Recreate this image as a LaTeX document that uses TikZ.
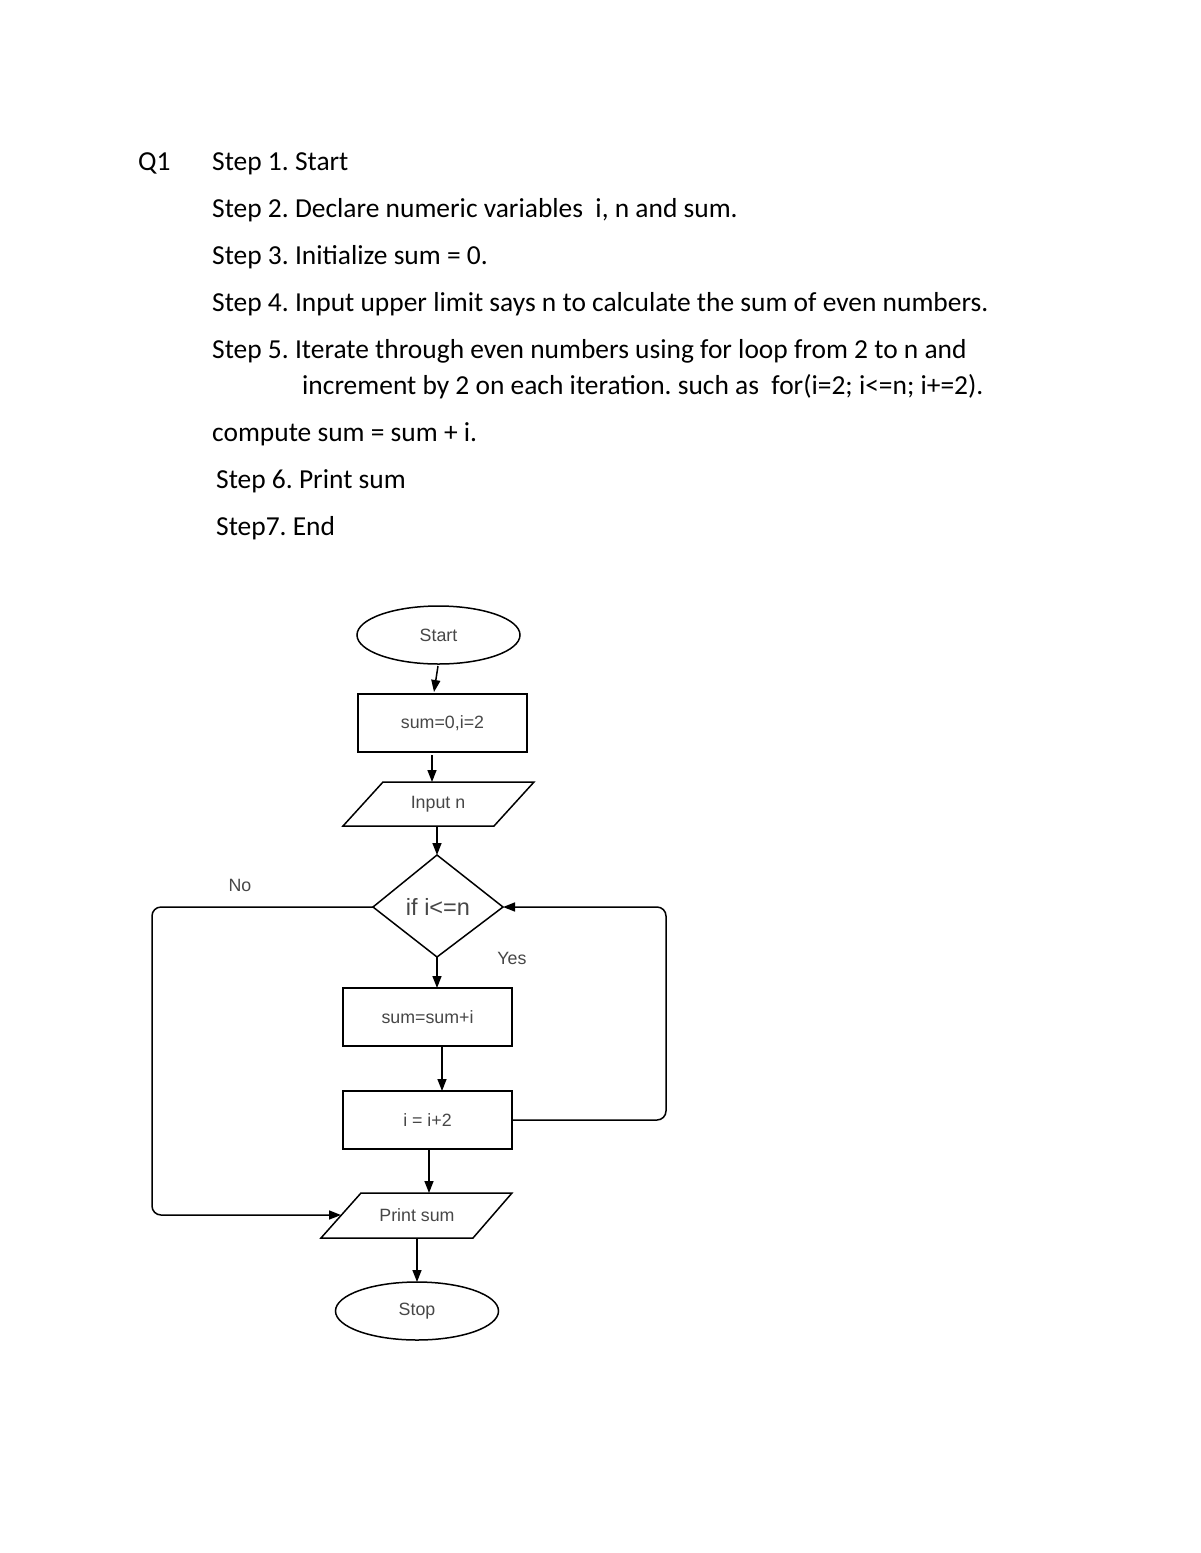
\documentclass[tikz,border=0pt]{standalone}
\usepackage{fontspec}
\setmainfont{Carlito}
\newfontfamily\flowfont{Liberation Sans}
\usetikzlibrary{arrows.meta,shapes.geometric}
\frenchspacing
\begin{document}
\begin{tikzpicture}[x=1pt,y=-1pt,
  txt/.style={anchor=base west, inner sep=0pt, font=\fontsize{27.45}{32}\selectfont},
  fl/.style={font=\flowfont\fontsize{17.8}{20}\selectfont, text=black!72},
  ln/.style={line width=1.5pt},
  arr/.style={ln,-{Triangle[length=12pt,width=9pt]}},
  boxst/.style={draw, ln, minimum width=169pt, minimum height=58pt, inner sep=0pt, fl},
  ellst/.style={draw, ln, ellipse, minimum width=163pt, minimum height=58pt, inner sep=0pt, fl}]
\path[use as bounding box, fill=white] (0,0) rectangle (1200,1553);

% algorithm text
\node[txt] (q1) at (138,170) {Q1};
\node[txt] (s1) at (212,170) {Step 1. Start};
\node[txt] (s2) at (212,217) {Step 2. Declare numeric variables\ \ i, n and sum.};
\node[txt] (s3) at (212,264) {Step 3. Initialize sum = 0.};
\node[txt] (s4) at (212,311) {Step 4. Input upper limit says n to calculate the sum of even numbers.};
\node[txt] (s5) at (212,358) {Step 5. Iterate through even numbers using for loop from 2 to n and};
\node[txt] (s5b) at (302,394) {increment by 2 on each iteration. such as\ \ for(i=2; i<=n; i+=2).};
\node[txt] (cmp) at (212,441) {compute sum = sum + i.};
\node[txt] (s6) at (216,488) {Step 6. Print sum};
\node[txt] (s7) at (216,535) {Step7. End};

% flowchart
\node[ellst] (start) at (438.5,635) {Start};
\node[boxst] (init) at (442.5,723) {sum=0,i=2};
\draw[ln] (383,782) -- (534,782) -- (494,826) -- (343,826) -- cycle;
\node[fl] (input) at (438,804) {Input n};
\draw[ln] (437,855) -- (503,907) -- (437,957) -- (373,907) -- cycle;
\node[fl, font=\flowfont\fontsize{23.5}{26}\selectfont] (cond) at (438,907) {if i<=n};
\node[boxst] (add) at (427.5,1017) {sum=sum+i};
\node[boxst] (inc) at (427.5,1120) {i = i+2};
\draw[ln] (361,1193) -- (512,1193) -- (473,1238) -- (321,1238) -- cycle;
\node[fl] (print) at (417,1215) {Print sum};
\node[ellst] (stop) at (417,1311) {Stop};

\coordinate (dtop) at (437,855);
\coordinate (dbot) at (437,957);
\coordinate (dleft) at (373,907);
\coordinate (dright) at (503,907);
\coordinate (pleft) at (341,1215);

\draw[arr] (438,666) -- (434,692);
\draw[arr] (432,755) -- (432,782);
\draw[arr] (437,826) -- (dtop);
\draw[arr] (dbot) -- (437,988);
\draw[arr] (442,1046) -- (442,1091);
\draw[arr] (429,1150) -- (429,1193);
\draw[arr] (417,1238) -- (417,1282);
\draw[arr, rounded corners=9pt] (dleft) -| (152,1215) -- (pleft);
\draw[arr, rounded corners=9pt] (inc.east) -| (666,907) -- (dright);

\node[fl] (no) at (240,885) {No};
\node[fl] (yes) at (512,958) {Yes};
\end{tikzpicture}
\end{document}
